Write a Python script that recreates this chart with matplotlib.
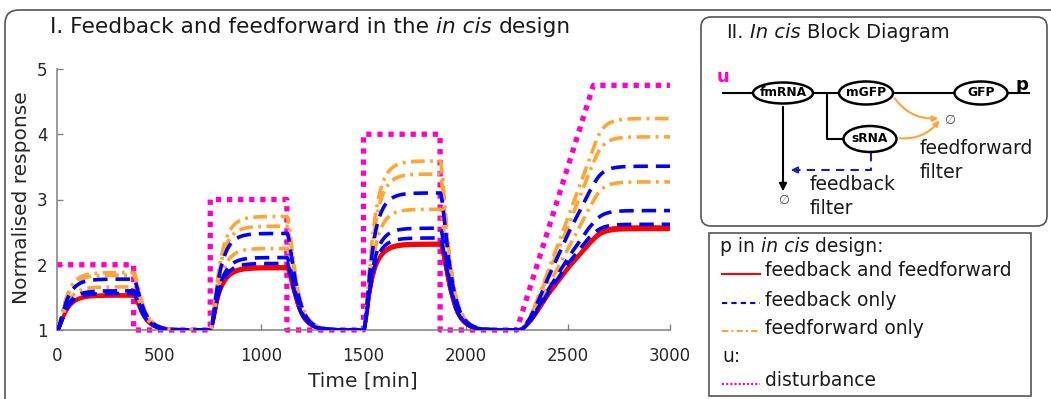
import numpy as np
import matplotlib
matplotlib.use("Agg")
import matplotlib.pyplot as plt
from matplotlib.patches import FancyBboxPatch, Rectangle, Ellipse, FancyArrowPatch

plt.rcParams['font.family'] = ['DejaVu Sans']

## disturbance u (piecewise input)
u_time = [0, 375, 375, 750, 750, 1125, 1125, 1500, 1500, 1875, 1875, 2250, 2625, 3000]
u_value = [2, 2, 1, 1, 3, 3, 1, 1, 4, 4, 1, 1, 4.75, 4.75]

## steady state of p for u = 1, 2, 3, 4, 4.75
u_levels = [1, 2, 3, 4, 4.75]
p_fb_ff = [[1, 1.52, 1.94, 2.30, 2.54],
           [1, 1.53, 1.95, 2.32, 2.56],
           [1, 1.54, 1.97, 2.33, 2.58]]
p_fb = [[1, 1.78, 2.48, 3.10, 3.51],
        [1, 1.60, 2.11, 2.56, 2.83],
        [1, 1.56, 2.02, 2.41, 2.62]]
p_ff = [[1, 1.88, 2.74, 3.59, 4.24],
        [1, 1.84, 2.59, 3.39, 3.96],
        [1, 1.66, 2.25, 2.85, 3.27]]
## response lags [min]
tau_fast = 12
tau_slow = 40

x_ticks = [0, 500, 1000, 1500, 2000, 2500, 3000]
y_ticks = [1, 2, 3, 4, 5]

c_red = '#ff0000'
c_blue = '#0000ff'
c_orange = '#ffa533'
c_pink = '#ff00cc'


def lag(x, tau):
    y = np.empty_like(x)
    y[0] = 1.0
    for i in range(1, len(x)):
        y[i] = y[i - 1] + (x[i - 1] - y[i - 1]) / tau
    return y


t = np.arange(0, 3001, 1.0)
u = np.interp(t, u_time, u_value)
s = lag(lag(u, tau_fast), tau_slow)

W, H = 1051, 399
fig = plt.figure(figsize=(W / 100, H / 100), dpi=100)
ov = fig.add_axes([0, 0, 1, 1])
ov.set_xlim(0, W)
ov.set_ylim(H, 0)
ov.axis('off')

ax = fig.add_axes([57 / W, 1 - 330 / H, (670 - 57) / W, (330 - 69) / H])

## curves ---------------------------------------------------------------
ax.plot(u_time, u_value, color=c_pink, lw=3.8, dashes=(1, 1.1), clip_on=False, zorder=2)
for lv in p_fb_ff:
    ax.plot(t, np.interp(s, u_levels, lv), color=c_red, lw=2.4, zorder=3)
for lv in p_ff:
    ax.plot(t, np.interp(s, u_levels, lv), color=c_orange, lw=2.6,
            dashes=(3.8, 1.5, 0.8, 1.5), zorder=4)
for lv in p_fb:
    ax.plot(t, np.interp(s, u_levels, lv), color=c_blue, lw=2.6, dashes=(4, 2.2), zorder=5)

ax.set_xlim(0, 3000)
ax.set_ylim(1, 5)
ax.set_xticks(x_ticks)
ax.set_yticks(y_ticks)
for sp in ['top', 'right']:
    ax.spines[sp].set_visible(False)
for sp in ['left', 'bottom']:
    ax.spines[sp].set_color('#808080')
    ax.spines[sp].set_linewidth(1.1)
ax.tick_params(direction='in', length=4, width=1, color='#808080',
               labelsize=12, labelcolor='#262626')
ax.tick_params(axis='x', pad=12)
ax.tick_params(axis='y', pad=7)
ax.patch.set_alpha(0)

ov.text(22, 198, 'Normalised response', rotation=90, ha='center', va='center',
        fontsize=14.5, color='#262626')
ov.text(363, 381, 'Time [min]', ha='center', va='center', fontsize=14.5, color='#262626')

## rich text helper (normal + italic pieces) ---------------------------
r = fig.canvas.get_renderer()


def tw(txt, **kw):
    tt = ov.text(0, 0, txt, **kw)
    w = tt.get_window_extent(r).width
    tt.remove()
    return w


def rich(x, y, parts, **kw):
    sw = tw('x x', **kw) - tw('xx', **kw)
    for txt, style in parts:
        lead = len(txt) - len(txt.lstrip(' '))
        trail = len(txt) - len(txt.rstrip(' '))
        x += lead * sw
        core = txt.strip(' ')
        tt = ov.text(x, y, core, style=style, va='center', ha='left', **kw)
        x += tt.get_window_extent(r).width + trail * sw
    return x


## frames -----------------------------------------------------------------
ov.add_patch(FancyBboxPatch((5, 10), 1100, 450, boxstyle='round,pad=0,rounding_size=14',
                            fc='none', ec='#555555', lw=1.2))
ov.add_patch(FancyBboxPatch((701, 17), 346, 209, boxstyle='round,pad=0,rounding_size=10',
                            fc='white', ec='#555555', lw=1.2))
ov.add_patch(Rectangle((709, 233), 322, 163, fc='white', ec='#555555', lw=1.2))

rich(50, 27, [('I. Feedback and feedforward in the ', 'normal'), ('in cis', 'italic'),
              (' design', 'normal')], fontsize=15.6, color='#1a1a1a')
rich(726, 33, [('II. ', 'normal'), ('In cis', 'italic'), (' Block Diagram', 'normal')],
     fontsize=14, color='#1a1a1a')

## block diagram ----------------------------------------------------------
lk = dict(color='k', lw=1.5, solid_capstyle='butt')
ov.plot([722, 753], [93, 93], **lk)
ov.plot([813, 839], [93, 93], **lk)
ov.plot([827, 827, 844], [93, 139, 139], **lk)
ov.plot([893, 955], [93, 93], **lk)
ov.plot([1008, 1030], [93, 93], **lk)

for (cx, cy, w, h, lab) in [(783, 93, 60, 21, 'fmRNA'), (866, 93, 54, 23, 'mGFP'),
                             (981, 93, 53, 23, 'GFP'), (870, 139, 53, 26, 'sRNA')]:
    ov.add_patch(Ellipse((cx, cy), w, h, fc='white', ec='k', lw=1.8, zorder=3))
    ov.text(cx, cy, lab, ha='center', va='center', fontsize=8.8, fontweight='bold', zorder=4)

ov.text(723, 82, 'u', color=c_pink, fontsize=13, fontweight='bold', ha='center', va='baseline')
ov.text(1022, 90, 'p', color='k', fontsize=13, fontweight='bold', ha='center', va='baseline')

ov.add_patch(FancyArrowPatch((783, 104), (783, 194), arrowstyle='-|>', mutation_scale=11,
                             color='k', lw=1.5))
ov.text(783, 201, '\u2205', ha='center', va='center', fontsize=9, color='#444444')

fb_col = '#1c1cb4'
ov.plot([871, 871, 797], [153, 170, 170], color=fb_col, lw=1.5, dashes=(4, 3))
ov.add_patch(FancyArrowPatch((798, 170), (788, 170), arrowstyle='-|>', mutation_scale=10,
                             color=fb_col, lw=1.2))

ov.add_patch(FancyArrowPatch((893, 96), (941, 118), connectionstyle='arc3,rad=0.3',
                             arrowstyle='-|>', mutation_scale=8, color=c_orange, lw=1.5))
ov.add_patch(FancyArrowPatch((897, 138), (941, 118), connectionstyle='arc3,rad=0.3',
                             arrowstyle='-|>', mutation_scale=8, color=c_orange, lw=1.5))
ov.text(949, 120, '\u2205', ha='center', va='center', fontsize=9, color='#444444')

ov.text(810, 185, 'feedback', fontsize=13.5, va='center', color='#1a1a1a')
ov.text(810, 209, 'filter', fontsize=13.5, va='center', color='#1a1a1a')
ov.text(920, 148, 'feedforward', fontsize=13.5, va='center', color='#1a1a1a')
ov.text(920, 172, 'filter', fontsize=13.5, va='center', color='#1a1a1a')

## legend -----------------------------------------------------------------
rich(720, 247, [('p in ', 'normal'), ('in cis', 'italic'), (' design:', 'normal')],
     fontsize=13.5, color='#1a1a1a')
ov.text(722, 357, 'u:', fontsize=13.5, va='center', color='#1a1a1a')
entries = [(271, 'feedback and feedforward', c_red, None),
           (300, 'feedback only', c_blue, (2.5, 2)),
           (328, 'feedforward only', c_orange, (3, 1.5, 1, 1.5)),
           (381, 'disturbance', c_pink, (1, 1))]
for y, lab, col, ds in entries:
    if ds is None:
        ov.plot([722, 760], [y + 3, y + 3], color=col, lw=1.5)
    else:
        ov.plot([722, 760], [y + 3, y + 3], color=col, lw=1.5, dashes=ds)
    ov.text(765, y, lab, fontsize=13.5, va='center', color='#1a1a1a')

fig.savefig('out.png', dpi=100)
